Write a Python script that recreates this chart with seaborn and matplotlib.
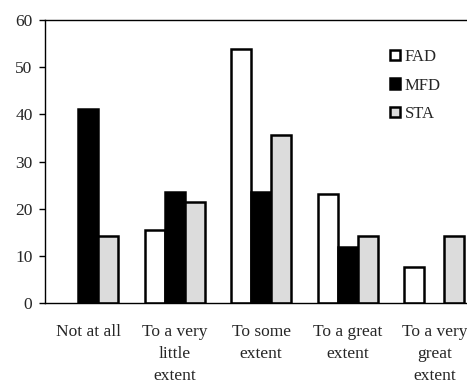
import matplotlib
matplotlib.use("Agg")
import matplotlib.pyplot as plt
import seaborn as sns
import pandas as pd
from matplotlib.patches import Patch

categories = ["Not at all", "To a very\nlittle\nextent", "To some\nextent",
              "To a great\nextent", "To a very\ngreat\nextent"]
series = ["FAD", "MFD", "STA"]
fad = [0.0, 15.4, 53.8, 23.1, 7.7]
mfd = [41.2, 23.5, 23.5, 11.8, 0.0]
sta = [14.3, 21.4, 35.7, 14.3, 14.3]
yticks = [0, 10, 20, 30, 40, 50, 60]

rows = []
for s, vals in zip(series, [fad, mfd, sta]):
    for c, v in zip(categories, vals):
        rows.append({"cat": c, "series": s, "value": v})
df = pd.DataFrame(rows)

sns.set_style("white")
plt.rcParams["font.family"] = ["Liberation Serif", "DejaVu Serif"]

fig = plt.figure(figsize=(4.67, 3.85), dpi=100)
W, H = 467, 385
left, bottom, top = 45, 303, 20
unit = 86.5
axw = 5 * unit
ax = fig.add_axes([left / W, (H - bottom) / H, axw / W, (bottom - top) / H])

colors = {"FAD": "white", "MFD": "black", "STA": "#dcdcdc"}
sns.barplot(data=df, x="cat", y="value", hue="series", hue_order=series,
            order=categories, palette=colors, width=0.69, ax=ax,
            edgecolor="black", linewidth=1.8, legend=False, errorbar=None)

for p in ax.patches:
    if p.get_height() == 0:
        p.set_visible(False)

ax.set_xlim(-0.5, 4.5)
ax.set_ylim(0, 60)
ax.set_yticks(yticks)
ax.set_xlabel("")
ax.set_ylabel("")
for s in ["left", "bottom", "top", "right"]:
    ax.spines[s].set_visible(True)
    ax.spines[s].set_color("black")
    ax.spines[s].set_linewidth(1.0)
ax.tick_params(axis="y", direction="out", length=4, width=1, color="black",
               labelsize=12.5, pad=5, left=True)
ax.tick_params(axis="x", length=0, labelsize=12.5, pad=15)
for lab in ax.get_xticklabels():
    lab.set_linespacing(1.5)

handles = [Patch(facecolor=colors[s], edgecolor="black", linewidth=1.8, label=s)
           for s in series]
ax.legend(handles=handles, loc="upper left",
          bbox_to_anchor=((390 - left) / axw, (bottom - 49) / (bottom - top)),
          frameon=False, fontsize=12, handlelength=0.6, handleheight=0.6,
          handletextpad=0.3, labelspacing=0.75, borderaxespad=0, borderpad=0)

fig.savefig("out.png", dpi=100)
